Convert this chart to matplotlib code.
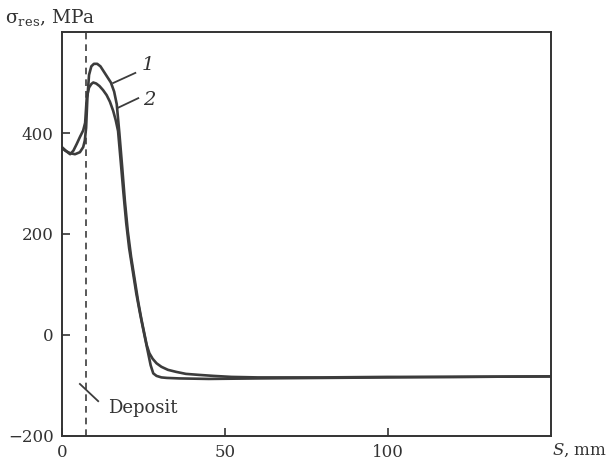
import matplotlib
matplotlib.use("Agg")
import matplotlib.pyplot as plt

plt.rcParams['font.family'] = ['DejaVu Serif']
plt.rcParams['mathtext.fontset'] = 'dejavuserif'

# curve 1 (higher peak, smooth knee)
s1 = [0, 1, 2.5, 4, 5.5, 6.5, 7.0, 7.4, 7.8, 8.3, 9.0, 9.8, 10.8, 11.8, 12.8, 13.8, 15.0, 16.0, 16.8, 17.6,
      18.5, 19.3, 20.2, 21.2, 22.3, 23.4, 24.4, 25.2, 26.0, 26.8, 27.8, 29.0, 30.5, 32.5, 35, 38, 42, 46.5, 52, 60,
      80, 100, 120, 150]
y1 = [370, 365, 360, 358, 362, 372, 385, 410, 470, 515, 532, 537, 537, 532, 522, 512, 500, 482, 457, 400,
      330, 265, 205, 155, 110, 65, 30, 5, -20, -36, -47, -56, -63, -69, -73, -77, -79, -81, -83, -84,
      -84, -83, -83, -82]
# curve 2 (lower peak, sharp knee)
s2 = [0, 1.5, 2.5, 3.5, 4.5, 5.5, 6.5, 7.1, 7.6, 8.3, 9.0, 9.6, 10.5, 11.5, 12.6, 13.7, 14.7, 15.7, 16.5, 17.2,
      18.0, 18.8, 19.7, 20.6, 21.7, 22.8, 23.9, 24.8, 25.6, 26.4, 27.2, 28.0, 29.0, 30.5, 32.2, 36, 45, 60,
      80, 100, 120, 150]
y2 = [372, 363, 358, 365, 378, 392, 405, 420, 470, 490, 497, 500, 498, 493, 485, 475, 462, 444, 425, 404,
      345, 285, 222, 172, 127, 82, 44, 15, -10, -35, -60, -76, -81, -84, -85, -86, -87, -86,
      -85, -84, -83, -82]

deposit_s = 7.4

fig = plt.figure(figsize=(6.1, 4.68), dpi=100)
ax = fig.add_axes([0.1016, 0.0684, 0.8017, 0.8632])

line_color = '#3c3c3c'
ax.plot(s1, y1, color=line_color, lw=1.9, solid_joinstyle='round')
ax.plot(s2, y2, color=line_color, lw=1.9, solid_joinstyle='round')
ax.axvline(deposit_s, color=line_color, lw=1.2, ls=(0, (4, 3)))

ax.set_xlim(0, 150)
ax.set_ylim(-200, 600)
ax.set_xticks([0, 50, 100])
ax.set_yticks([-200, 0, 200, 400])
ax.tick_params(direction='in', length=6, width=1.2, labelsize=12, colors='#333333', pad=6)
for sp in ax.spines.values():
    sp.set_linewidth(1.4)
    sp.set_color('#333333')

# curve labels with leader lines
ax.plot([15.7, 22.5], [499, 519], color=line_color, lw=1.3)
ax.plot([17.2, 23.4], [450, 469], color=line_color, lw=1.3)
ax.text(24.5, 535, '1', fontsize=14, style='italic', color='#333333', ha='left', va='center')
ax.text(25.0, 466, '2', fontsize=14, style='italic', color='#333333', ha='left', va='center')

# deposit marker
ax.plot([5.5, 11.1], [-97, -131], color=line_color, lw=1.3)
ax.text(14.0, -145, 'Deposit', fontsize=13, color='#333333', ha='left', va='center')

fig.text(0.008, 0.962, 'σ$_{\\rm res}$, MPa', fontsize=13.5, color='#333333', ha='left', va='center')
fig.text(0.995, 0.038, '$S$, mm', fontsize=12, color='#333333', ha='right', va='center')

fig.savefig('out.png', dpi=100)
